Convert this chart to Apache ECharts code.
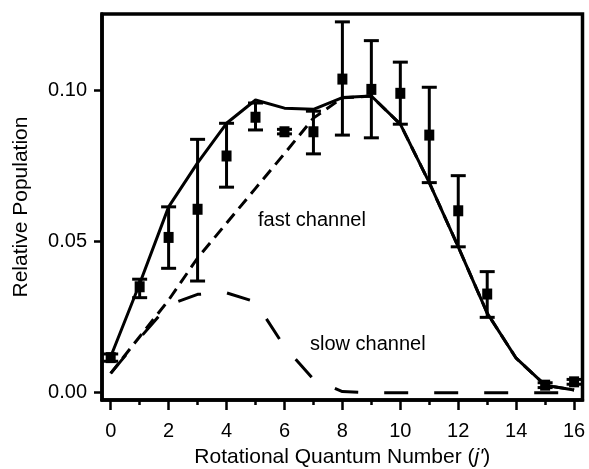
<!DOCTYPE html>
<html>
<head>
<meta charset="utf-8">
<script src="https://cdn.jsdelivr.net/npm/echarts@6/dist/echarts.min.js"></script>
<style>
  html, body { margin: 0; padding: 0; background: #fff; }
  #chart { width: 589px; height: 469px; }
</style>
</head>
<body>
<div id="chart"></div>
<script>
// rotational quantum number j' for the curves
var jAll = [0, 1, 2, 3, 4, 5, 6, 7, 8, 9, 10, 11, 12, 13, 14, 15, 16];
// total (solid), fast channel (short dash), slow channel (long dash)
var totalPop = [0.0119, 0.036, 0.0614, 0.0759, 0.089, 0.0967, 0.094, 0.0936, 0.0975, 0.098, 0.0887, 0.0694, 0.0482, 0.0263, 0.0114, 0.0025, 0.0009];
var fastPop = [0.0064, 0.0185, 0.0306, 0.0445, 0.056, 0.0675, 0.079, 0.0907, 0.0974, 0.098, 0.0887, 0.0694, 0.0482, 0.0263, 0.0114, 0.0025, 0.0009];
var slowPop = [0.0064, 0.018, 0.029, 0.0325, 0.033, 0.030, 0.0152, 0.0045, 0.0004, 0, 0, 0, 0, 0, 0, 0, 0];

// measured points with error bars (no point at j' = 14)
var jMeas = [0, 1, 2, 3, 4, 5, 6, 7, 8, 9, 10, 11, 12, 13, 15, 16];
var measPop = [0.0116, 0.035, 0.0513, 0.0606, 0.0782, 0.091, 0.0862, 0.0862, 0.1036, 0.1002, 0.0989, 0.0851, 0.0601, 0.0326, 0.0025, 0.0036];
var errHigh = [0.0128, 0.0375, 0.0614, 0.0837, 0.089, 0.0957, 0.0870, 0.0930, 0.1225, 0.1163, 0.1092, 0.1009, 0.0717, 0.040, 0.0033, 0.0044];
var errLow = [0.0104, 0.0314, 0.0411, 0.0369, 0.0679, 0.0868, 0.0855, 0.0789, 0.0851, 0.0842, 0.0887, 0.0694, 0.0482, 0.0249, 0.0017, 0.0028];

// tick labels
var xMajor = [0, 2, 4, 6, 8, 10, 12, 14, 16];
var xMinor = [1, 3, 5, 7, 9, 11, 13, 15];
var yMajor = [0, 0.05, 0.10];

var font = "Liberation Sans, Arial, sans-serif";
var myChart = echarts.init(document.getElementById("chart"));

// pair up x and y arrays
function pairs(xs, ys) {
  return xs.map(function (x, i) { return [x, ys[i]]; });
}

var errData = jMeas.map(function (j, i) { return [j, errLow[i], errHigh[i]]; });

var option = {
  animation: false,
  backgroundColor: "#fff",
  grid: {
    left: 102, right: 6.5, top: 14, bottom: 69,
    outerBoundsMode: "none",
    show: true, borderColor: "#000", borderWidth: 3.5
  },
  xAxis: [
    {
      type: "value", min: -0.3, max: 16.29,
      name: "Rotational Quantum Number ({i|j'})",
      nameLocation: "middle", nameGap: 47,
      nameTextStyle: {
        color: "#000", fontSize: 21, fontFamily: font,
        rich: { i: { fontStyle: "italic", fontSize: 21, fontFamily: font, color: "#000" } }
      },
      axisLine: { show: true, onZero: false, lineStyle: { color: "#000", width: 3.5 } },
      axisTick: { show: true, customValues: xMajor, length: 10, lineStyle: { color: "#000", width: 2.5 } },
      axisLabel: { customValues: xMajor, color: "#000", fontSize: 20, fontFamily: font, margin: 21 },
      splitLine: { show: false }
    },
    {
      // only for the small odd ticks
      type: "value", min: -0.3, max: 16.29, position: "bottom",
      axisLine: { show: false, onZero: false },
      axisTick: { show: true, customValues: xMinor, length: 5, lineStyle: { color: "#000", width: 2.5 } },
      axisLabel: { show: false },
      splitLine: { show: false }
    }
  ],
  yAxis: {
    type: "value", min: -0.0024, max: 0.1251,
    name: "Relative Population",
    nameLocation: "middle", nameGap: 70,
    nameTextStyle: { color: "#000", fontSize: 21, fontFamily: font },
    axisLine: { show: true, onZero: false, lineStyle: { color: "#000", width: 3.5 } },
    axisTick: { show: true, customValues: yMajor, length: 8, lineStyle: { color: "#000", width: 2.5 } },
    axisLabel: {
      customValues: yMajor, color: "#000", fontSize: 20, fontFamily: font, margin: 15,
      formatter: function (v) { return v.toFixed(2); }
    },
    splitLine: { show: false }
  },
  graphic: [
    { type: "text", left: 258, top: 210, style: { text: "fast channel", fill: "#000", fontSize: 20, fontFamily: font } },
    { type: "text", left: 310, top: 334, style: { text: "slow channel", fill: "#000", fontSize: 20, fontFamily: font } }
  ],
  series: [
    {
      name: "slow channel", type: "line", data: pairs(jAll, slowPop),
      symbol: "none", lineStyle: { color: "#000", width: 3, type: [24, 26] }
    },
    {
      name: "fast channel", type: "line", data: pairs(jAll, fastPop),
      symbol: "none", lineStyle: { color: "#000", width: 3, type: [12, 7] }
    },
    {
      name: "total", type: "line", data: pairs(jAll, totalPop),
      symbol: "none", lineStyle: { color: "#000", width: 3 }
    },
    {
      name: "error", type: "custom", data: errData,
      encode: { x: 0, y: [1, 2] },
      renderItem: function (params, api) {
        var lo = api.coord([api.value(0), api.value(1)]);
        var hi = api.coord([api.value(0), api.value(2)]);
        var w = 7.5;
        var st = { stroke: "#000", lineWidth: 3 };
        return {
          type: "group",
          children: [
            { type: "line", shape: { x1: lo[0], y1: lo[1], x2: hi[0], y2: hi[1] }, style: st },
            { type: "line", shape: { x1: lo[0] - w, y1: lo[1], x2: lo[0] + w, y2: lo[1] }, style: st },
            { type: "line", shape: { x1: hi[0] - w, y1: hi[1], x2: hi[0] + w, y2: hi[1] }, style: st }
          ]
        };
      },
      z: 3
    },
    {
      name: "measured", type: "scatter", data: pairs(jMeas, measPop),
      symbol: "rect", symbolSize: [10, 11],
      itemStyle: { color: "#000", opacity: 1 }, z: 4
    }
  ]
};

myChart.setOption(option);
</script>
</body>
</html>
